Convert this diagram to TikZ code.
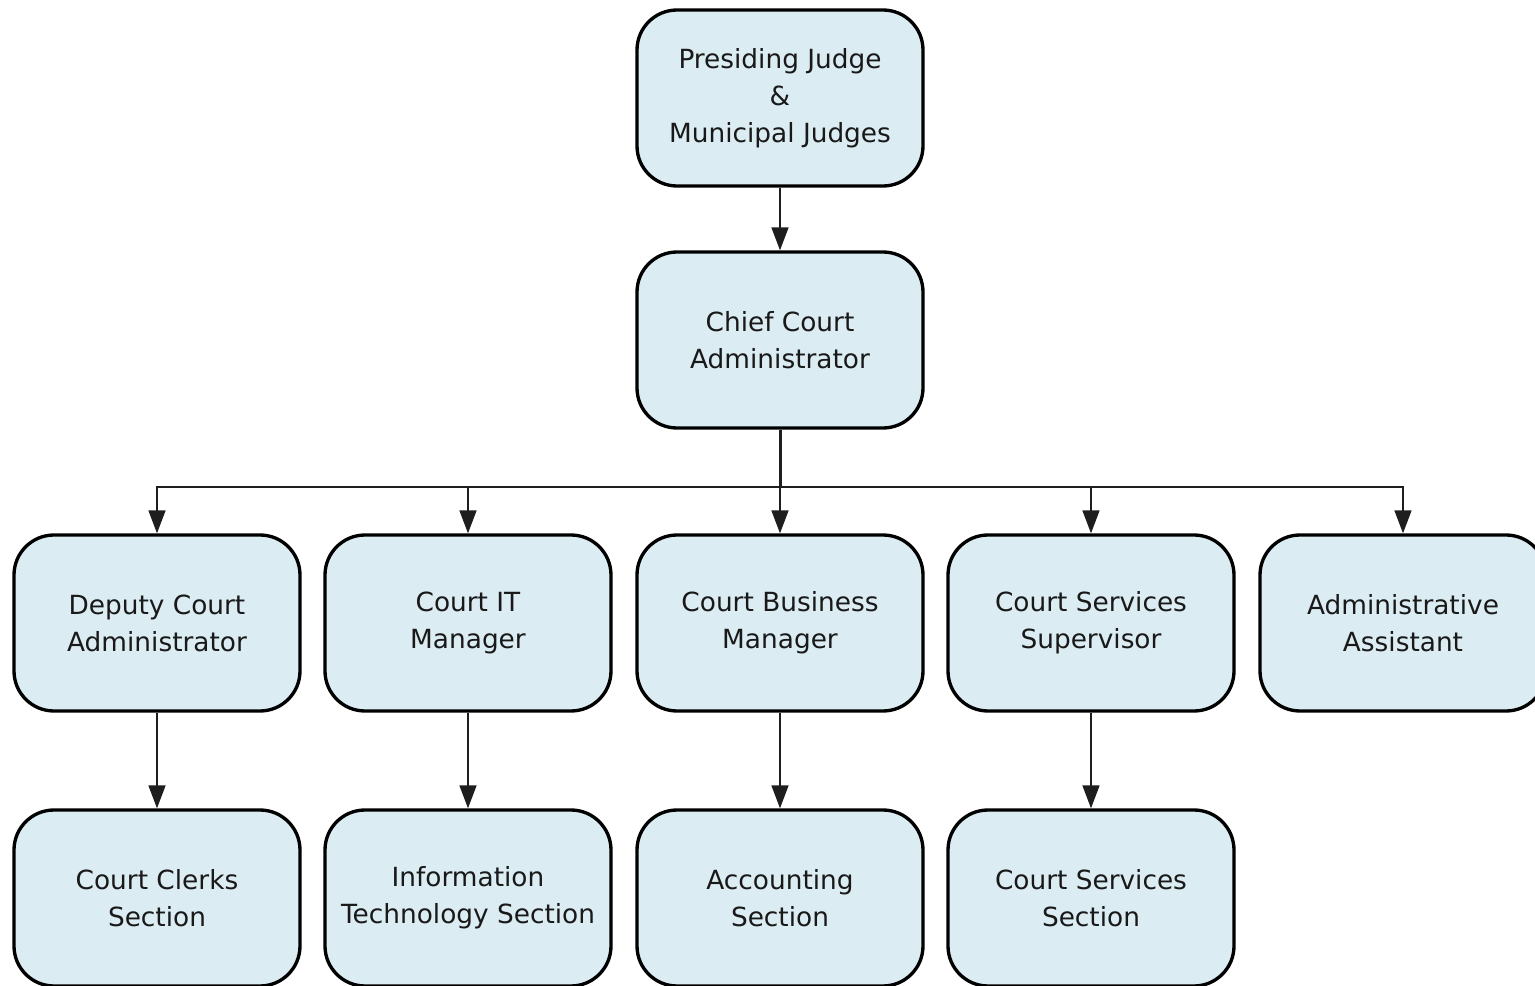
\documentclass[tikz,border=0pt]{standalone}
\usepackage{fontspec}
\setmainfont{DejaVu Sans}
\usepackage{tikz}
\usetikzlibrary{arrows.meta}
\definecolor{boxblue}{RGB}{219,236,243}
\definecolor{linegray}{RGB}{30,30,30}

\begin{document}
\begin{tikzpicture}[
  unitbox/.style={draw=black,line width=1.9pt,fill=boxblue,rounded corners=0.8cm,
    minimum width=5.72cm,minimum height=3.52cm,align=center,
    font=\fontsize{15}{21}\selectfont,text=black!90},
  link/.style={draw=linegray,line width=0.9pt,-{Triangle[length=0.46cm,width=0.34cm]}}
]
% Page size
\useasboundingbox (0,0) rectangle (30.7,-19.72);
% Top of the chart
\node[unitbox] (judges) at (15.6,-1.96) {Presiding Judge\\\&\\Municipal Judges};
\node[unitbox] (chief) at (15.6,-6.8) {Chief Court\\Administrator};
% Second row
\node[unitbox] (deputy) at (3.14,-12.46) {Deputy Court\\Administrator};
\node[unitbox] (itmgr) at (9.36,-12.46) {Court IT\\Manager};
\node[unitbox] (business) at (15.6,-12.46) {Court Business\\Manager};
\node[unitbox] (services) at (21.82,-12.46) {Court Services\\Supervisor};
\node[unitbox] (assistant) at (28.06,-12.46) {Administrative\\Assistant};
% Third row
\node[unitbox] (clerks) at (3.14,-17.96) {Court Clerks\\Section};
\node[unitbox] (itsection) at (9.36,-17.96) {Information\\Technology Section};
\node[unitbox] (accounting) at (15.6,-17.96) {Accounting\\Section};
\node[unitbox] (servsection) at (21.82,-17.96) {Court Services\\Section};
% Connectors
\draw[link] (judges) -- (chief);
\coordinate (split) at (15.6,-9.74);
\draw[linegray,line width=1.7pt] (chief) -- (split);
\foreach \unit in {deputy,itmgr,business,services,assistant}
  \draw[link] (split) -| (\unit);
\foreach \from/\to in {deputy/clerks,itmgr/itsection,business/accounting,services/servsection}
  \draw[link] (\from) -- (\to);
\end{tikzpicture}
\end{document}
